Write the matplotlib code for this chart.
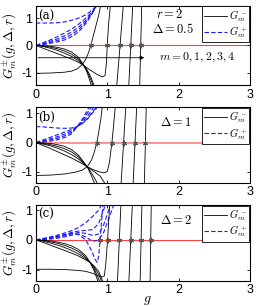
import matplotlib
matplotlib.use("Agg")
import matplotlib.pyplot as plt
import numpy as np

plt.rcParams['mathtext.fontset'] = 'cm'
plt.rcParams['font.family'] = ['Liberation Sans', 'DejaVu Sans']

# ---------------- data ----------------
# Panel (a): Delta = 0.5
a_minus_g = [
    [0, 0.2, 0.4, 0.5, 0.58, 0.65, 0.7, 0.74, 0.77, 0.8, 0.84, 0.88, 0.92],
    [0, 0.1, 0.2, 0.3, 0.4, 0.5, 0.6, 0.67, 0.75, 0.85, 0.93, 0.97, 0.99, 1.0, 1.02, 1.05],
    [0, 0.1, 0.2, 0.3, 0.4, 0.5, 0.6, 0.67, 0.72, 0.77, 0.82],
    [0, 0.1, 0.2, 0.3, 0.4, 0.5, 0.6, 0.67, 0.72, 0.77, 0.82],
    [0, 0.1, 0.2, 0.3, 0.4, 0.5, 0.6, 0.67, 0.72, 0.77, 0.82],
]
a_minus_v = [
    [-1.02, -1.01, -0.98, -0.94, -0.86, -0.7, -0.5, -0.25, 0, 0.3, 0.7, 1.1, 1.6],
    [0, -0.1, -0.2, -0.3, -0.4, -0.5, -0.62, -0.73, -0.88, -1.05, -1.15, -1.1, -0.6, 0, 0.8, 1.6],
    [0, -0.04, -0.1, -0.18, -0.28, -0.4, -0.56, -0.73, -0.9, -1.15, -1.5],
    [0, -0.02, -0.06, -0.12, -0.2, -0.32, -0.5, -0.73, -0.95, -1.25, -1.6],
    [0, -0.01, -0.03, -0.07, -0.13, -0.24, -0.44, -0.73, -1.0, -1.4, -1.8],
]
a_branch_g = [[1.13, 1.155, 1.18, 1.205, 1.23],
              [1.30, 1.315, 1.33, 1.345, 1.36],
              [1.455, 1.462, 1.47, 1.478, 1.485]]
a_branch_v = [[-1.6, -0.8, 0, 0.8, 1.6]] * 3
a_plus_g = [0, 0.1, 0.2, 0.3, 0.4, 0.5, 0.6, 0.7, 0.78, 0.84, 0.88]
a_plus_v = [
    [0.82, 0.82, 0.82, 0.83, 0.86, 0.92, 1.0, 1.12, 1.27, 1.42, 1.55],
    [0, 0.1, 0.2, 0.32, 0.45, 0.6, 0.78, 1.0, 1.2, 1.4, 1.6],
    [0, 0.07, 0.15, 0.24, 0.35, 0.49, 0.67, 0.92, 1.17, 1.4, 1.6],
    [0, 0.05, 0.11, 0.18, 0.27, 0.4, 0.58, 0.86, 1.14, 1.42, 1.65],
    [0, 0.03, 0.08, 0.13, 0.2, 0.32, 0.5, 0.8, 1.12, 1.45, 1.7],
]
a_zeros = [0.77, 1.0, 1.18, 1.33, 1.47]

# Panel (b): Delta = 1
b_minus_g = [
    [0, 0.2, 0.4, 0.55, 0.65, 0.72, 0.78, 0.82, 0.855, 0.88, 0.91, 0.94],
    [0, 0.1, 0.2, 0.3, 0.4, 0.5, 0.6, 0.72, 0.8, 0.88, 0.95, 1.0, 1.03, 1.066, 1.09, 1.12],
    [0, 0.1, 0.2, 0.3, 0.4, 0.5, 0.6, 0.72, 0.8, 0.9, 0.98],
    [0, 0.1, 0.2, 0.3, 0.4, 0.5, 0.6, 0.72, 0.78, 0.84, 0.9],
    [0, 0.1, 0.2, 0.3, 0.4, 0.5, 0.6, 0.72, 0.78, 0.84],
]
b_minus_v = [
    [-1.13, -1.12, -1.08, -1.02, -0.95, -0.83, -0.6, -0.32, 0, 0.35, 0.8, 1.4],
    [0, -0.1, -0.2, -0.31, -0.42, -0.53, -0.66, -0.83, -0.93, -1.0, -1.04, -1.0, -0.7, 0, 0.6, 1.4],
    [0, -0.05, -0.11, -0.19, -0.29, -0.41, -0.57, -0.83, -0.97, -1.15, -1.45],
    [0, -0.03, -0.07, -0.13, -0.21, -0.32, -0.5, -0.83, -1.05, -1.3, -1.6],
    [0, -0.01, -0.03, -0.07, -0.13, -0.24, -0.44, -0.83, -1.15, -1.5],
]
b_branch_g = [[1.19, 1.21, 1.23, 1.25, 1.27],
              [1.36, 1.375, 1.39, 1.405, 1.42],
              [1.52, 1.527, 1.535, 1.543, 1.55]]
b_branch_v = [[-1.6, -0.8, 0, 0.8, 1.6]] * 3
b_plus_g = [0, 0.1, 0.2, 0.3, 0.4, 0.5, 0.58, 0.65, 0.72, 0.78, 0.84, 0.9]
b_plus_v = [
    [0.55, 0.54, 0.52, 0.5, 0.49, 0.5, 0.55, 0.65, 0.8, 0.98, 1.15, 1.35],
    [0, 0.09, 0.18, 0.27, 0.36, 0.45, 0.55, 0.66, 0.82, 1.0, 1.2, 1.4],
    [0, 0.06, 0.13, 0.2, 0.29, 0.4, 0.55, 0.7, 0.9, 1.1, 1.35, 1.6],
    [0, 0.04, 0.09, 0.15, 0.23, 0.35, 0.55, 0.75, 1.0, 1.25, 1.5, 1.8],
    [0, 0.02, 0.05, 0.1, 0.17, 0.3, 0.55, 0.8, 1.1, 1.4, 1.7, 2.0],
]
b_zeros = [0.855, 1.066, 1.23, 1.39, 1.535]

# Panel (c): Delta = 2
c_minus_g = [
    [0, 0.2, 0.4, 0.6, 0.7, 0.8, 0.88, 0.93, 0.96, 0.98, 1.005, 1.02, 1.04],
    [0, 0.1, 0.2, 0.3, 0.4, 0.5, 0.6, 0.7, 0.76, 0.82, 0.88, 0.94],
    [0, 0.1, 0.2, 0.3, 0.4, 0.5, 0.6, 0.7, 0.76, 0.82, 0.88, 0.94],
    [0, 0.1, 0.2, 0.3, 0.4, 0.5, 0.6, 0.7, 0.76, 0.82, 0.88, 0.94],
    [0, 0.1, 0.2, 0.3, 0.4, 0.5, 0.6, 0.7, 0.76, 0.82, 0.88, 0.94],
]
c_minus_v = [
    [-0.98, -0.98, -0.99, -1.02, -1.05, -1.12, -1.2, -1.24, -1.2, -0.8, 0, 0.6, 1.4],
    [0, -0.08, -0.17, -0.26, -0.35, -0.44, -0.54, -0.67, -0.75, -0.88, -1.05, -1.4],
    [0, -0.04, -0.1, -0.17, -0.25, -0.35, -0.47, -0.63, -0.75, -0.92, -1.15, -1.5],
    [0, -0.02, -0.06, -0.11, -0.18, -0.27, -0.39, -0.58, -0.75, -0.98, -1.3, -1.7],
    [0, -0.01, -0.03, -0.07, -0.12, -0.2, -0.32, -0.53, -0.75, -1.05, -1.45, -1.9],
]
c_branch_g = [[1.14, 1.155, 1.17, 1.185, 1.2],
              [1.30, 1.315, 1.33, 1.345, 1.36],
              [1.46, 1.467, 1.475, 1.483, 1.49],
              [1.60, 1.605, 1.61, 1.615, 1.62]]
c_branch_v = [[-1.6, -0.8, 0, 0.8, 1.6]] * 4
c_plus_g = [
    [0, 0.1, 0.2, 0.3, 0.4, 0.5, 0.6, 0.7, 0.78, 0.83, 0.86, 0.88, 0.9, 0.92, 0.95],
    [0, 0.1, 0.2, 0.3, 0.4, 0.5, 0.6, 0.7, 0.8, 0.88, 0.95],
    [0, 0.1, 0.2, 0.3, 0.4, 0.5, 0.6, 0.7, 0.8, 0.88, 0.95, 1.0],
    [0, 0.1, 0.2, 0.3, 0.4, 0.5, 0.6, 0.7, 0.8, 0.88, 0.95, 1.02, 1.06],
    [0, 0.1, 0.2, 0.3, 0.4, 0.5, 0.6, 0.7, 0.8, 0.88, 0.95, 1.02, 1.08, 1.12],
]
c_plus_v = [
    [0, 0.04, 0.08, 0.12, 0.17, 0.22, 0.18, 0.0, -0.35, -0.65, -0.75, -0.55, 0, 0.6, 1.4],
    [0, 0.05, 0.1, 0.16, 0.23, 0.31, 0.42, 0.58, 0.8, 1.0, 1.3],
    [0, 0.03, 0.07, 0.12, 0.18, 0.25, 0.3, 0.32, 0.35, 0.55, 1.0, 1.4],
    [0, 0.02, 0.05, 0.09, 0.14, 0.2, 0.25, 0.22, 0.15, 0.2, 0.5, 1.0, 1.4],
    [0, 0.01, 0.03, 0.06, 0.1, 0.16, 0.2, 0.1, -0.05, 0.0, 0.25, 0.7, 1.1, 1.4],
]
c_zeros = [0.9, 1.005, 1.17, 1.33, 1.475, 1.61]

panel_labels = ['(a)', '(b)', '(c)']
panel_texts = [[r'$r=2$', r'$\Delta=0.5$'], [r'$\Delta=1$'], [r'$\Delta=2$']]
ylims = [(-1.45, 1.45), (-1.39, 1.22), (-1.37, 1.17)]
xticks = [0, 1, 2, 3]
yticks = [-1, 0, 1]

# ---------------- figure ----------------
fig = plt.figure(figsize=(2.6, 3.06), dpi=100)
rects = [[0.138, 0.722, 0.823, 0.259],
         [0.138, 0.402, 0.823, 0.248],
         [0.138, 0.082, 0.823, 0.248]]

panels = [
    (a_minus_g, a_minus_v, a_branch_g, a_branch_v, [a_plus_g] * 5, a_plus_v, a_zeros),
    (b_minus_g, b_minus_v, b_branch_g, b_branch_v, [b_plus_g] * 5, b_plus_v, b_zeros),
    (c_minus_g, c_minus_v, c_branch_g, c_branch_v, c_plus_g, c_plus_v, c_zeros),
]

red_lw = [0.8, 1.4, 0.8]
red_col = ['#ff4040', '#ff9090', '#ff4040']

for i, (mg, mv, bg, bv, pg, pv, zs) in enumerate(panels):
    ax = fig.add_axes(rects[i])
    ax.axhline(0, color=red_col[i], lw=red_lw[i], zorder=1)
    lm = None
    for g, v in zip(mg, mv):
        lm, = ax.plot(g, v, color='black', lw=0.6, zorder=3)
    for g, v in zip(bg, bv):
        ax.plot(g, v, color='black', lw=0.6, zorder=3)
    lp = None
    for g, v in zip(pg, pv):
        lp, = ax.plot(g, v, color='#1a1aff', lw=0.8, ls=(0, (4, 2)), zorder=2)
    ax.plot(zs, [0] * len(zs), ls='none', marker=(6, 2, 0), ms=4,
            color='#555555', mew=0.6, zorder=4)
    ax.set_xlim(0, 3)
    ax.set_ylim(*ylims[i])
    ax.set_xticks(xticks)
    ax.set_yticks(yticks)
    ax.set_xticklabels([str(t) for t in xticks])
    ax.set_yticklabels([str(t) for t in yticks])
    ax.tick_params(direction='in', length=2.5, width=0.6, top=True, right=True,
                   labelsize=9, pad=2.5)
    for s in ax.spines.values():
        s.set_linewidth(0.8)
    ax.set_ylabel(r'$G_m^{\pm}(g,\Delta,r)$', fontsize=9.5)
    ax.yaxis.set_label_coords(-0.078, 0.5)
    ax.text(0.01, 0.87, panel_labels[i], transform=ax.transAxes, fontsize=8.5,
            family='DejaVu Serif', va='center', ha='left')
    leg = ax.legend([lm, lp], [r'$G_m^-$', r'$G_m^+$'], loc='upper right',
                    fontsize=7.5, handlelength=2.2, handletextpad=0.2,
                    borderaxespad=0.05, borderpad=0.2, labelspacing=0.05,
                    fancybox=False, framealpha=1, edgecolor='black')
    leg.get_frame().set_linewidth(0.6)
    if i == 0:
        ax.text(0.56, 0.895, panel_texts[0][0], transform=ax.transAxes,
                fontsize=9, va='center', ha='left')
        ax.text(0.545, 0.71, panel_texts[0][1], transform=ax.transAxes,
                fontsize=9, va='center', ha='left')
        ax.annotate('', xy=(1.52, -0.45), xytext=(0.03, -0.45),
                    arrowprops=dict(arrowstyle='-|>', color='black', lw=0.6,
                                    mutation_scale=6, shrinkA=0, shrinkB=0))
        ax.text(1.72, -0.45, r'$m=0,1,2,3,4$', fontsize=8.5, va='center', ha='left')
    else:
        ax.text(0.58, 0.8, panel_texts[i][0], transform=ax.transAxes,
                fontsize=9, va='center', ha='left')
    if i == 2:
        ax.set_xlabel(r'$g$', fontsize=10)
        ax.xaxis.set_label_coords(0.52, -0.16)

fig.savefig('out.png', dpi=100)
